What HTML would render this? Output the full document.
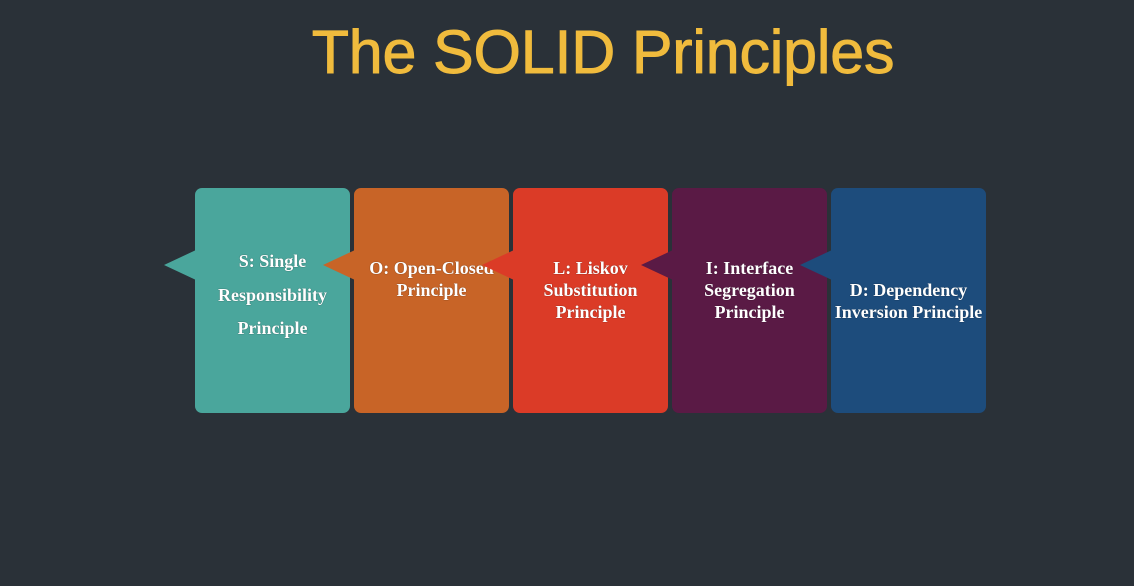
<!DOCTYPE html>
<html><head><meta charset="utf-8"><style>
html,body{margin:0;padding:0;}
body{width:1134px;height:586px;background:#2a3138;position:relative;overflow:hidden;}
.title{position:absolute;left:0;width:1206px;top:14px;text-align:center;font-family:"Liberation Sans",Arial,sans-serif;font-size:61px;color:#f0bb3d;line-height:76px;letter-spacing:-0.2px;-webkit-text-stroke:0.9px #f0bb3d;}
.card{position:absolute;top:188px;width:155px;height:225px;border-radius:7px;}
.tri{position:absolute;top:250px;width:32px;height:30px;}
.txt{position:absolute;width:163px;text-align:center;color:#fff;font-family:"Liberation Serif","Times New Roman",serif;font-weight:bold;font-size:18px;line-height:22px;text-shadow:0 0 1px rgba(0,0,0,.6);white-space:nowrap;}
</style></head><body>
<div class="title">The SOLID Principles</div>

<div class="card" style="left:195px;background:#4aa69c;z-index:1"></div>
<svg class="tri" style="left:164px;z-index:1" viewBox="0 0 32 30"><polygon points="0,15 32,0 32,30" fill="#4aa69c"/></svg>
<div class="txt" style="left:191px;top:245px;line-height:33.5px;z-index:1">S: Single<br>Responsibility<br>Principle</div>

<div class="card" style="left:354px;background:#c86427;z-index:2"></div>
<svg class="tri" style="left:323px;z-index:2" viewBox="0 0 32 30"><polygon points="0,15 32,0 32,30" fill="#c86427"/></svg>
<div class="txt" style="left:350px;top:257px;z-index:2">O: Open-Closed<br>Principle</div>

<div class="card" style="left:513px;background:#db3b27;z-index:3"></div>
<svg class="tri" style="left:482px;z-index:3" viewBox="0 0 32 30"><polygon points="0,15 32,0 32,30" fill="#db3b27"/></svg>
<div class="txt" style="left:509px;top:257px;z-index:3">L: Liskov<br>Substitution<br>Principle</div>

<div class="card" style="left:672px;background:#5a1a45;z-index:4"></div>
<svg class="tri" style="left:641px;z-index:4" viewBox="0 0 32 30"><polygon points="0,15 32,0 32,30" fill="#5a1a45"/></svg>
<div class="txt" style="left:668px;top:257px;z-index:4">I: Interface<br>Segregation<br>Principle</div>

<div class="card" style="left:831px;background:#1d4c7c;z-index:5"></div>
<svg class="tri" style="left:800px;z-index:5" viewBox="0 0 32 30"><polygon points="0,15 32,0 32,30" fill="#1d4c7c"/></svg>
<div class="txt" style="left:827px;top:279px;z-index:5">D: Dependency<br>Inversion Principle</div>
</body></html>
